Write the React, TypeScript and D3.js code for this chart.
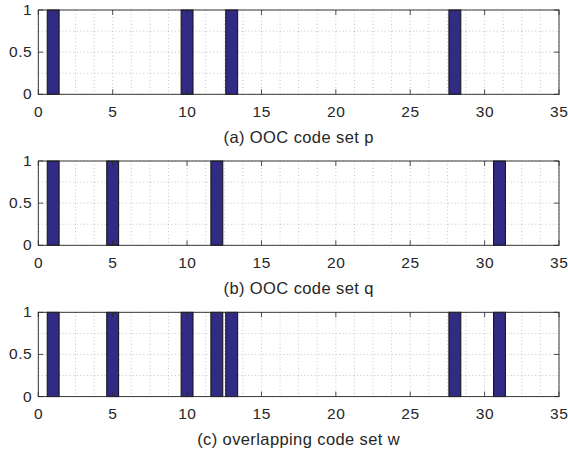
import React from "react";
import * as d3 from "d3";

const positions: number[] = d3.range(1, 34);
const setP: number[] = [1, 10, 13, 28];
const setQ: number[] = [1, 5, 12, 31];
const setW: number[] = [1, 5, 10, 12, 13, 28, 31];
const titles: string[] = ["(a) OOC code set p", "(b) OOC code set q", "(c) overlapping code set w"];
const xTicks: number[] = [0, 5, 10, 15, 20, 25, 30, 35];
const yTicks: number[] = [0, 0.5, 1];
const yTickLabels: string[] = ["0", "0.5", "1"];

const W = 568, H = 453;
const left = 38.3, right = 559;
const panels = [
  { top: 10, bottom: 94.3 },
  { top: 161, bottom: 245.3 },
  { top: 312.3, bottom: 396.6 },
];
const BAR = "#312b84";
const FONT = "'Liberation Sans', Arial, sans-serif";
const TXT = "#262626";

function Panel({ idx, set }: { idx: number; set: number[] }) {
  const { top, bottom } = panels[idx];
  const x = d3.scaleLinear().domain([0, 35]).range([left, right]);
  const y = d3.scaleLinear().domain([0, 1]).range([bottom, top]);
  const values = positions.map((p) => (set.includes(p) ? 1 : 0));
  const gx = d3.range(0, 35.01, 1.25);
  const gy = d3.range(0, 1.001, 0.25);
  const bw = x(0.8) - x(0);
  const tl = 5;
  return (
    <g>
      <rect x={left} y={top} width={right - left} height={bottom - top} fill="#fff" />
      {gx.map((v, i) => (
        <line key={"gx" + i} x1={x(v)} x2={x(v)} y1={top} y2={bottom} stroke="#bdbdbd" strokeWidth={0.9} strokeDasharray="1,2.5" />
      ))}
      {gy.map((v, i) => (
        <line key={"gy" + i} x1={left} x2={right} y1={y(v)} y2={y(v)} stroke="#bdbdbd" strokeWidth={0.9} strokeDasharray="1,2.5" />
      ))}
      {positions.map((p, i) => (
        <rect
          key={"b" + i}
          x={x(p) - bw / 2}
          y={y(values[i])}
          width={bw}
          height={y(0) - y(values[i])}
          fill={BAR}
          stroke="#111"
          strokeWidth={values[i] ? 1 : 1.2}
        />
      ))}
      {xTicks.map((v, i) => (
        <g key={"xt" + i}>
          <line x1={x(v)} x2={x(v)} y1={bottom} y2={bottom - tl} stroke={TXT} strokeWidth={0.8} />
          <line x1={x(v)} x2={x(v)} y1={top} y2={top + tl} stroke={TXT} strokeWidth={0.8} />
          <text x={x(v) + 0.3} y={bottom + 22.5} textAnchor="middle" fontFamily={FONT} fontSize={15.5} letterSpacing={0.6} fill={TXT}>{v}</text>
        </g>
      ))}
      {yTicks.map((v, i) => (
        <g key={"yt" + i}>
          <line x1={left} x2={left + tl} y1={y(v)} y2={y(v)} stroke={TXT} strokeWidth={0.8} />
          <line x1={right} x2={right - tl} y1={y(v)} y2={y(v)} stroke={TXT} strokeWidth={0.8} />
          <text x={left - 6} y={y(v) + 5} textAnchor="end" fontFamily={FONT} fontSize={15.5} letterSpacing={0.6} fill={TXT}>{yTickLabels[i]}</text>
        </g>
      ))}
      <rect x={left} y={top} width={right - left} height={bottom - top} fill="none" stroke={TXT} strokeWidth={0.9} />
      <text x={(left + right) / 2} y={bottom + 48.5} textAnchor="middle" fontFamily={FONT} fontSize={16.5} letterSpacing={0.4} fill={TXT}>{titles[idx]}</text>
    </g>
  );
}

export default function App() {
  return (
    <svg width={W} height={H} style={{ position: "absolute", left: 0, top: 0, background: "#fff" }}>
      <rect width={W} height={H} fill="#fff" />
      <Panel idx={0} set={setP} />
      <Panel idx={1} set={setQ} />
      <Panel idx={2} set={setW} />
    </svg>
  );
}
